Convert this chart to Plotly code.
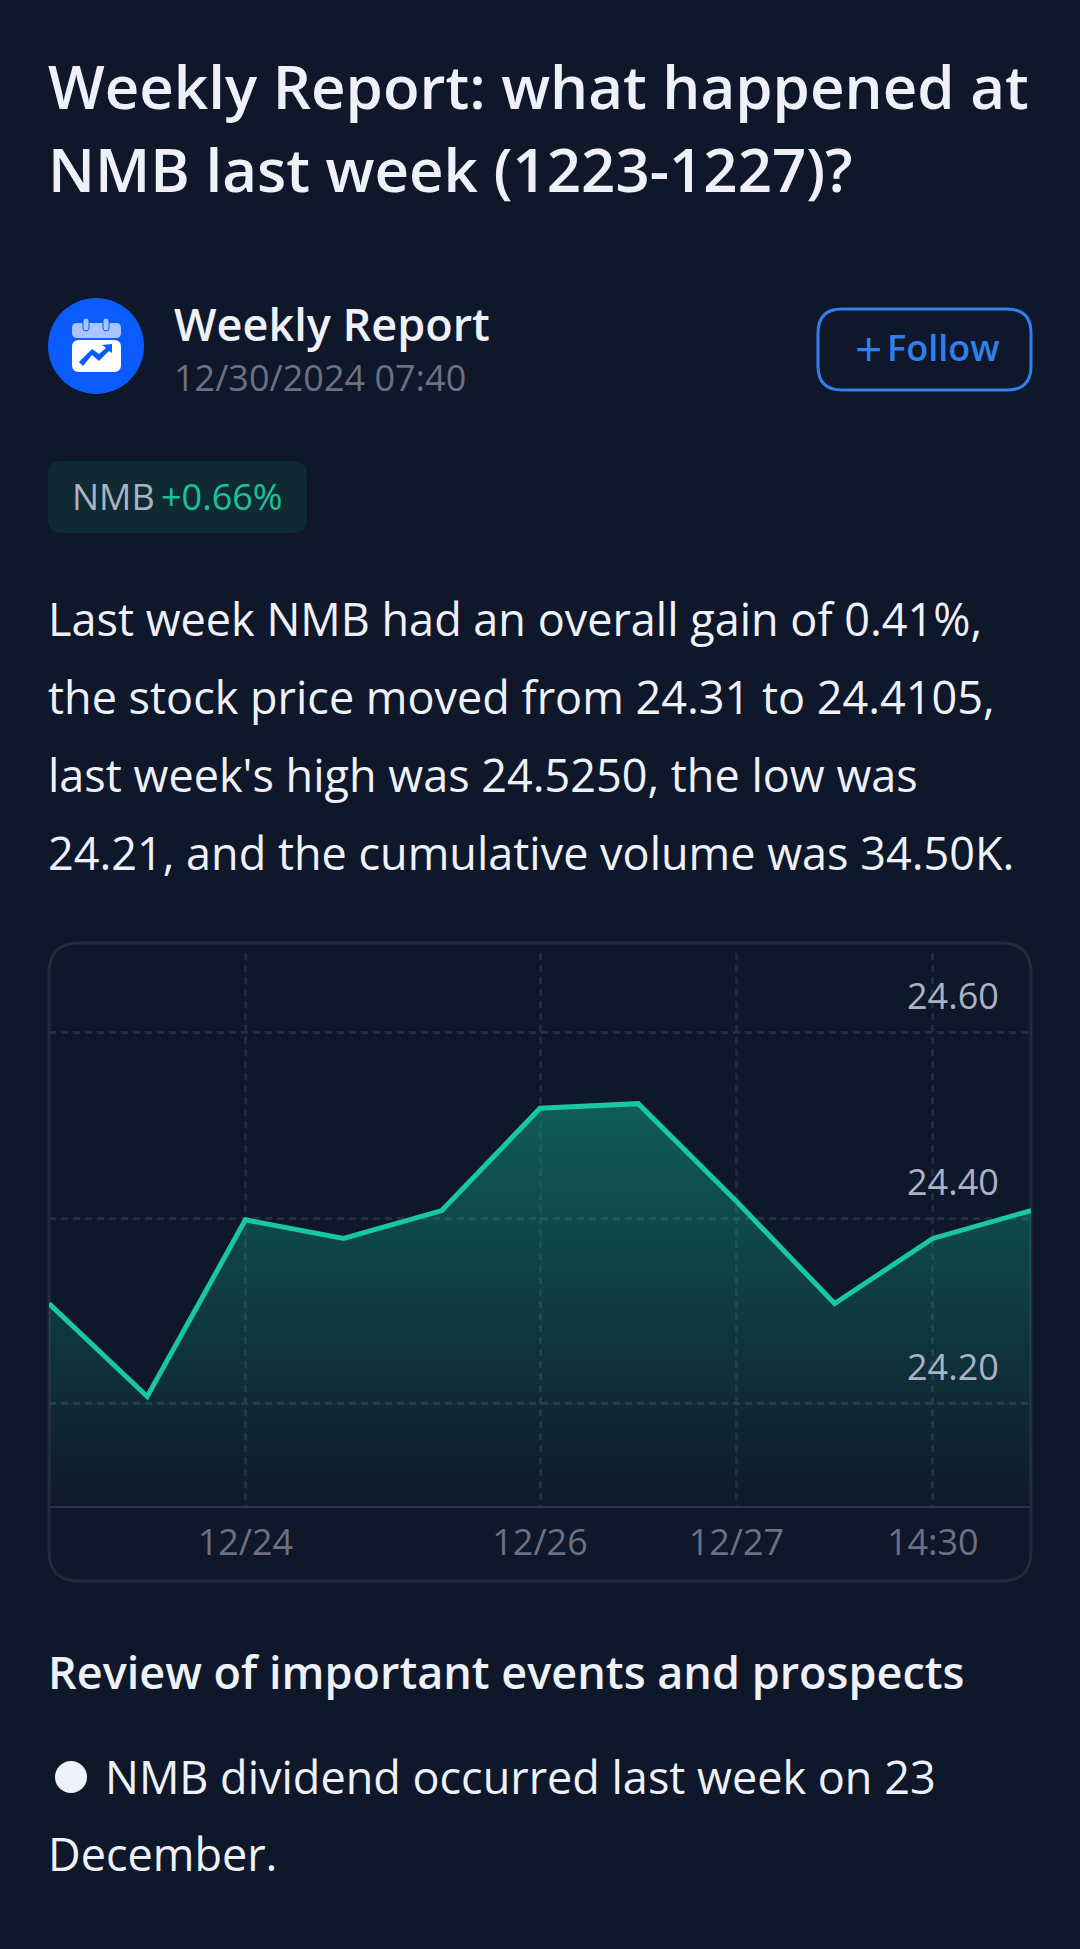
import plotly.graph_objects as go

W = 1080
H = 1949

BG = "#0f172a"
FONT = "Open Sans"

# data
x_index = [0, 1, 2, 3, 4, 5, 6, 7, 8, 9, 10]
prices = [24.308, 24.208, 24.398, 24.378, 24.408, 24.518, 24.523, 24.418, 24.308, 24.378, 24.408]
tick_index = [2, 5, 7, 9]
tick_labels = ["12/24", "12/26", "12/27", "14:30"]
price_ticks = [24.2, 24.4, 24.6]
price_tick_labels = ["24.20", "24.40", "24.60"]

title_lines = ["Weekly Report: what happened at", "NMB last week (1223-1227)?"]
body_lines = [
    "Last week NMB had an overall gain of 0.41%,",
    "the stock price moved from 24.31 to 24.4105,",
    "last week's high was 24.5250, the low was",
    "24.21, and the cumulative volume was 34.50K.",
]


def px(x):
    return x / W


def py(y):
    return 1 - y / H


def rounded(x0, y0, x1, y1, r):
    # rounded rect path in paper coords, given page pixels
    pts = [
        ("M", x0 + r, y0), ("L", x1 - r, y0), ("Q", x1, y0, x1, y0 + r),
        ("L", x1, y1 - r), ("Q", x1, y1, x1 - r, y1), ("L", x0 + r, y1),
        ("Q", x0, y1, x0, y1 - r), ("L", x0, y0 + r), ("Q", x0, y0, x0 + r, y0),
    ]
    out = ""
    for p in pts:
        out += p[0]
        vals = p[1:]
        out += ",".join(
            f"{px(v):.5f}" if i % 2 == 0 else f"{py(v):.5f}" for i, v in enumerate(vals)
        ) + " "
    return out + "Z"


def poly(points):
    return "M" + " L".join(f"{px(x):.5f},{py(y):.5f}" for x, y in points)


def label(text, x, y, size, color, weight=400, anchor="left"):
    return dict(
        text=text, x=px(x), y=py(y), xref="paper", yref="paper",
        xanchor=anchor, yanchor="middle", showarrow=False, borderpad=0,
        font=dict(family=FONT, size=size, color=color, weight=weight),
    )


def box(path, fill="rgba(0,0,0,0)", line="rgba(0,0,0,0)", width=0, layer="below"):
    return dict(type="path", path=path, xref="paper", yref="paper", fillcolor=fill,
                line=dict(color=line, width=width), layer=layer)


def circle(cx, cy, r, fill):
    return dict(type="circle", xref="paper", yref="paper", x0=px(cx - r), x1=px(cx + r),
                y0=py(cy + r), y1=py(cy - r), fillcolor=fill, line=dict(width=0), layer="below")


shapes = [
    box(rounded(49, 943, 1031, 1581, 30), line="#232a3d", width=3),
    box(rounded(48, 461, 307, 533, 14), fill="#0f2a33"),
    box(rounded(818, 309, 1031, 390, 24), line="#2f80ed", width=3),
    circle(96, 346, 48, "#0a5cff"),
    # calendar icon
    box(rounded(72, 323, 121, 338, 5), fill="#a9c4ff"),
    box(rounded(72, 340, 121, 372, 7), fill="#ffffff"),
    box(rounded(83, 318, 89, 331, 3), fill="#a9c4ff", line="#0a5cff", width=1),
    box(rounded(103, 318, 109, 331, 3), fill="#a9c4ff", line="#0a5cff", width=1),
    box(poly([(79, 362), (92, 349), (99, 354), (106, 348), (102, 345), (112, 344), (112, 353),
              (109, 351), (99, 361), (92, 355), (83, 366), (79, 362)]), fill="#0a5cff"),
    circle(71, 1777, 16, "#eef1f8"),
]

annotations = [
    label(title_lines[0], 47, 86, 60, "#eef1f8", 600),
    label(title_lines[1], 47, 169, 60, "#eef1f8", 600),
    label("Weekly Report", 173, 323, 45, "#eef1f8", 600),
    label("12/30/2024 07:40", 173, 378, 36, "#6b7183"),
    label("+", 868, 347, 48, "#2f80ed", 400, anchor="center"),
    label("Follow", 886, 348, 36, "#2f80ed", 600),
    label("NMB", 71, 497, 36, "#aab2c4"),
    label("+0.66%", 160, 497, 36, "#17c39b"),
    label("Review of important events and prospects", 47, 1671, 45, "#eef1f8", 600),
    label("NMB dividend occurred last week on 23", 104, 1776, 45, "#eef1f8"),
    label("December.", 47, 1853, 45, "#eef1f8"),
]
for i, line in enumerate(body_lines):
    annotations.append(label(line, 47, 618 + i * 78, 45, "#eef1f8"))
# y tick labels sit above their grid lines, right aligned inside the card
for val, txt in zip(price_ticks, price_tick_labels):
    annotations.append(dict(
        text=txt, x=px(1000), y=val, xref="paper", yref="y", xanchor="right", yanchor="middle",
        yshift=37, showarrow=False, borderpad=0,
        font=dict(family=FONT, size=36, color="#aab2c4"),
    ))

fig = go.Figure()
fig.add_trace(go.Scatter(
    x=x_index,
    y=prices,
    mode="lines",
    line=dict(color="#17c8a0", width=5),
    fill="tozeroy",
    fillgradient=dict(
        type="vertical",
        start=24.525,
        stop=24.09,
        colorscale=[[0, "rgba(16,190,150,0.42)"], [1, "rgba(16,190,150,0.01)"]],
    ),
    hoverinfo="skip",
))

fig.update_layout(
    width=W,
    height=H,
    margin=dict(l=0, r=0, t=0, b=0),
    paper_bgcolor=BG,
    plot_bgcolor="rgba(0,0,0,0)",
    showlegend=False,
    shapes=shapes,
    annotations=annotations,
    font=dict(family=FONT),
    xaxis=dict(
        domain=[px(49), px(1031)],
        range=[0, 10],
        tickvals=tick_index,
        ticktext=tick_labels,
        tickfont=dict(size=36, color="#6b7183"),
        ticks="",
        ticklabelstandoff=4,
        showgrid=True,
        gridcolor="#222a3d",
        griddash="7px,5px",
        gridwidth=2.5,
        showline=True,
        linecolor="#2e3548",
        linewidth=2,
        zeroline=False,
    ),
    yaxis=dict(
        domain=[py(1506), py(953)],
        range=[24.0903, 24.685],
        side="right",
        tickvals=price_ticks,
        showticklabels=False,
        ticks="",
        showgrid=True,
        gridcolor="#262d41",
        griddash="7px,5px",
        gridwidth=2.5,
        showline=False,
        zeroline=False,
    ),
)

fig.write_html(
    "out.html",
    config={"displayModeBar": False},
    post_script="document.body.style.margin='0';document.body.style.background='#0f172a';",
)
